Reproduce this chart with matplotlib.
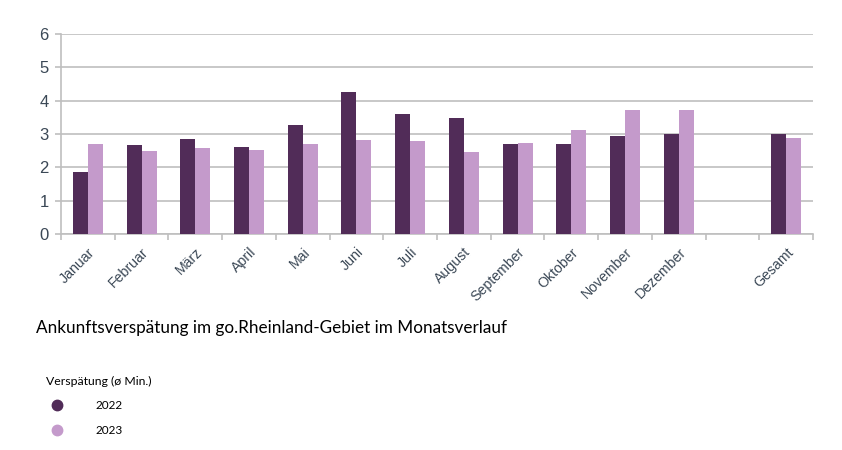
import matplotlib.pyplot as plt
from matplotlib.lines import Line2D
import numpy as np

# Verspaetung in Minuten
kategorien = ['Januar', 'Februar', 'März', 'April', 'Mai', 'Juni', 'Juli',
              'August', 'September', 'Oktober', 'November', 'Dezember', '', 'Gesamt']
werte_2022 = [1.86, 2.67, 2.86, 2.62, 3.28, 4.27, 3.60, 3.49, 2.71, 2.71, 2.95, 3.01, np.nan, 3.01]
werte_2023 = [2.70, 2.49, 2.59, 2.53, 2.71, 2.83, 2.80, 2.47, 2.74, 3.13, 3.73, 3.73, np.nan, 2.89]
jahre = ['2022', '2023']

farbe_22 = '#512C58'
farbe_23 = '#C49ACB'
grid_farbe = '#BFBFBF'
text_farbe = '#3B4856'

fig = plt.figure(figsize=(8.42, 4.5), dpi=100)
ax = fig.add_axes([61/842, 1-234/450, (813-61)/842, 200/450])

x = np.arange(len(kategorien))
b = 0.28
ax.bar(x - b/2, werte_2022, width=b, color=farbe_22, zorder=3)
ax.bar(x + b/2, werte_2023, width=b, color=farbe_23, zorder=3)

ax.set_xlim(-0.5, len(kategorien) - 0.5)
ax.set_ylim(0, 6)
ax.set_yticks(range(0, 7))
ax.yaxis.grid(True, color=grid_farbe, linewidth=1.2, zorder=0)
ax.set_axisbelow(True)

for s in ['top', 'right']:
    ax.spines[s].set_visible(False)
for s in ['left', 'bottom']:
    ax.spines[s].set_color(grid_farbe)
    ax.spines[s].set_linewidth(1.2)

ax.tick_params(axis='y', colors=grid_farbe, length=4, width=1.2, labelcolor=text_farbe,
               labelsize=12, pad=5)
for t in ax.get_yticklabels():
    t.set_fontfamily('Liberation Sans')

# Kategoriegrenzen als Striche, Beschriftung mittig
ax.set_xticks(np.arange(-0.5, len(kategorien)), minor=False)
ax.set_xticklabels([])
ax.tick_params(axis='x', which='major', colors=grid_farbe, length=4, width=1.2)
ax.set_xticks(x, minor=True)
ax.set_xticklabels(kategorien, minor=True, rotation=45, ha='right',
                   rotation_mode='anchor', fontsize=10.2, color=text_farbe,
                   fontfamily='Liberation Sans')
ax.tick_params(axis='x', which='minor', length=0, pad=8)

fig.text(36/842, 1-328/450, 'Ankunftsverspätung im go.Rheinland-Gebiet im Monatsverlauf',
         fontsize=12.3, fontfamily='Lato', color='black', va='center')

handles = [Line2D([], [], marker='o', linestyle='none', markersize=7.5,
                  markerfacecolor=c, markeredgecolor=c) for c in [farbe_22, farbe_23]]
leg = fig.legend(handles, jahre, title='Verspätung (ø Min.)', loc='upper left',
                 bbox_to_anchor=(35/842, 1-365/450), frameon=False,
                 handletextpad=2.2, labelspacing=1.15, alignment='left',
                 prop={'family': 'Lato', 'size': 8.5},
                 title_fontproperties={'family': 'Lato', 'size': 8.8})

fig.savefig('out.png', dpi=100)
